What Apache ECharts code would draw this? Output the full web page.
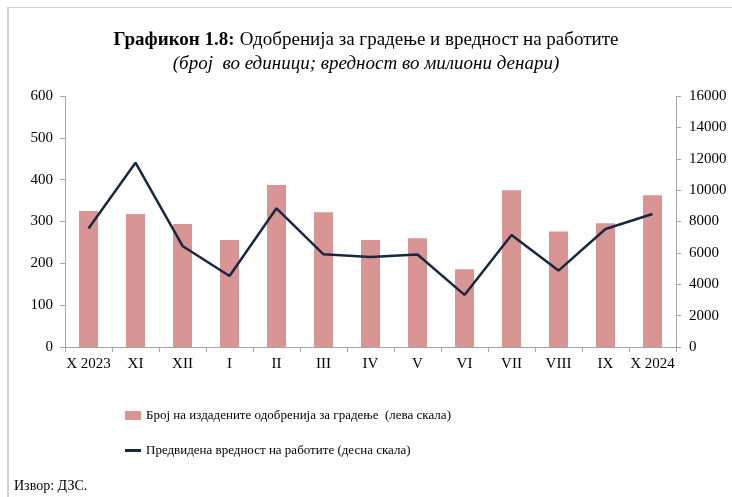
<!DOCTYPE html>
<html>
<head>
    <meta http-equiv="Content-Type" content="text/html; charset=UTF-8" />
    <title>Графикон 1.8</title>
    <script src="https://cdn.jsdelivr.net/npm/echarts@6/dist/echarts.min.js"></script>
    <style>
        body { margin: 0; background: #fff; }
        #frame { position: absolute; left: 7px; top: 7px; width: 725px; height: 490px;
                 border-left: 2px solid #d0d0d0; border-top: 1px solid #d0d0d0; }
        #main { position: absolute; left: 0; top: 0; width: 732px; height: 497px; }
    </style>
</head>
<body>
<div id="frame"></div>
<div id="main"></div>
<script type="text/javascript">
    // податоци
    var months = ['X 2023', 'XI', 'XII', 'I', 'II', 'III', 'IV', 'V', 'VI', 'VII', 'VIII', 'IX', 'X 2024'];
    var permits = [325, 318, 294, 256, 387, 322, 256, 260, 186, 375, 276, 296, 363];
    var worksValue = [7560, 11750, 6440, 4530, 8840, 5910, 5730, 5900, 3320, 7140, 4870, 7520, 8480];
    var leftTicks = [0, 100, 200, 300, 400, 500, 600];
    var rightTicks = [0, 2000, 4000, 6000, 8000, 10000, 12000, 14000, 16000];

    var barName = 'Број на издадените одобренија за градење  (лева скала)';
    var lineName = 'Предвидена вредност на работите (десна скала)';

    var serif = '"Liberation Serif", "DejaVu Serif", serif';
    var axisColor = '#a6a6a6';

    var myChart = echarts.init(document.getElementById('main'));

    var option = {
        animation: false,
        title: {
            text: '{b|Графикон 1.8:} {n|Одобренија за градење и вредност на работите}\n{i|(број  во единици; вредност во милиони денари)}',
            left: 'center',
            top: 23,
            textStyle: {
                fontWeight: 'normal',
                rich: {
                    b: { fontFamily: serif, fontWeight: 'bold', fontSize: 19, color: '#000', lineHeight: 24 },
                    n: { fontFamily: serif, fontWeight: 'normal', fontSize: 19, color: '#000', lineHeight: 24 },
                    i: { fontFamily: serif, fontWeight: 'normal', fontStyle: 'italic', fontSize: 19, color: '#000', lineHeight: 24 }
                }
            }
        },
        legend: [{
            data: [{ name: barName, icon: 'rect' }],
            left: 120,
            top: 404,
            itemWidth: 16,
            itemHeight: 9,
            textStyle: { fontFamily: serif, fontSize: 13, color: '#000' }
        }, {
            data: [{ name: lineName, icon: 'rect' }],
            left: 120,
            top: 439,
            itemWidth: 16,
            itemHeight: 3,
            textStyle: { fontFamily: serif, fontSize: 13, color: '#000' }
        }],
        graphic: [{
            type: 'text',
            left: 14,
            top: 479,
            style: { text: 'Извор: ДЗС.', font: '14px ' + serif, fill: '#000' }
        }],
        grid: { left: 65, right: 56, top: 96, bottom: 150 },
        xAxis: {
            type: 'category',
            data: months,
            axisLine: { lineStyle: { color: axisColor } },
            axisTick: { show: true, length: 5, lineStyle: { color: axisColor } },
            axisLabel: { fontFamily: serif, fontSize: 15, color: '#000', margin: 10, interval: 0 }
        },
        yAxis: [{
            type: 'value',
            min: 0,
            max: 600,
            interval: 100,
            position: 'left',
            axisLine: { show: true, lineStyle: { color: axisColor } },
            axisTick: { show: true, length: 5, lineStyle: { color: axisColor } },
            splitLine: { show: false },
            axisLabel: { fontFamily: serif, fontSize: 15, color: '#000', margin: 12,
                formatter: function (v) { return leftTicks.indexOf(v) >= 0 ? v : ''; } }
        }, {
            type: 'value',
            min: 0,
            max: 16000,
            interval: 2000,
            position: 'right',
            axisLine: { show: true, lineStyle: { color: axisColor } },
            axisTick: { show: true, length: 5, lineStyle: { color: axisColor } },
            splitLine: { show: false },
            axisLabel: { fontFamily: serif, fontSize: 15, color: '#000', margin: 13,
                formatter: function (v) { return rightTicks.indexOf(v) >= 0 ? v : ''; } }
        }],
        series: [{
            name: barName,
            type: 'bar',
            yAxisIndex: 0,
            data: permits,
            barWidth: 19,
            itemStyle: { color: '#d99594' }
        }, {
            name: lineName,
            type: 'line',
            yAxisIndex: 1,
            data: worksValue,
            symbol: 'none',
            lineStyle: { color: '#17283f', width: 2.5 },
            itemStyle: { color: '#17283f' }
        }]
    };

    myChart.setOption(option);
</script>
</body>
</html>
